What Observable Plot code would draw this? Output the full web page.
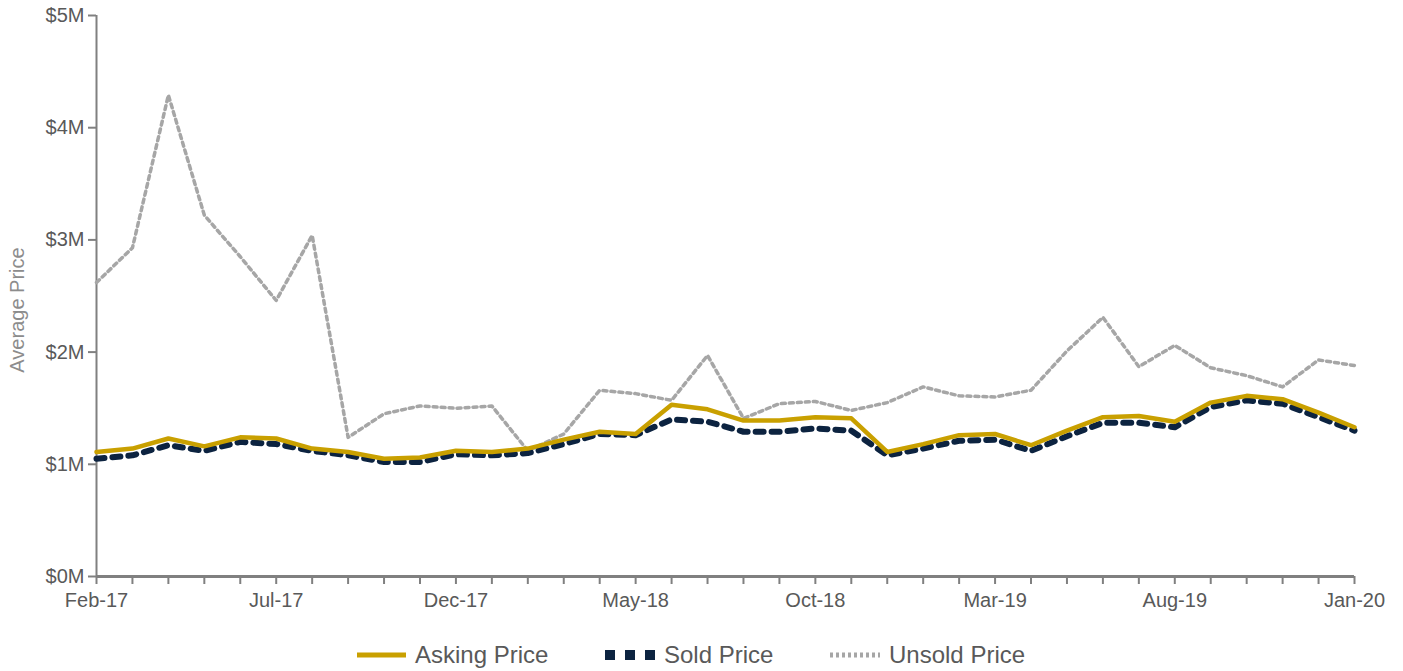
<!DOCTYPE html>
<html>
<head>
<meta charset="utf-8">
<script src="https://cdn.jsdelivr.net/npm/d3@7"></script>
<script src="https://cdn.jsdelivr.net/npm/@observablehq/plot@0.6"></script>
<style>
  html, body { margin: 0; padding: 0; background: #fff; }
  body { width: 1403px; height: 671px; overflow: hidden; font-family: "Liberation Sans", Arial, sans-serif; }
  #legend { position: absolute; top: 640px; left: 0; width: 1403px; height: 30px; }
  .item { position: absolute; top: 0; height: 30px; display: flex; align-items: center; font-size: 24px; color: #595959; }
  .item svg { margin-right: 9px; }
</style>
</head>
<body>
<div id="chart"></div>
<div id="legend">
  <div class="item" style="left:357px"><svg width="49" height="10"><line x1="0" y1="5" x2="49" y2="5" stroke="#C9A000" stroke-width="5"/></svg>Asking Price</div>
  <div class="item" style="left:605px"><svg width="50" height="12"><line x1="0" y1="6" x2="50" y2="6" stroke="#0C2340" stroke-width="10" stroke-dasharray="10,10"/></svg>Sold Price</div>
  <div class="item" style="left:830px"><svg width="50" height="8"><line x1="0" y1="4" x2="50" y2="4" stroke="#A6A6A6" stroke-width="5" stroke-dasharray="3,3"/></svg>Unsold Price</div>
</div>
<script>
const months = ["Feb-17","Mar-17","Apr-17","May-17","Jun-17","Jul-17","Aug-17","Sep-17","Oct-17","Nov-17","Dec-17",
  "Jan-18","Feb-18","Mar-18","Apr-18","May-18","Jun-18","Jul-18","Aug-18","Sep-18","Oct-18","Nov-18","Dec-18",
  "Jan-19","Feb-19","Mar-19","Apr-19","May-19","Jun-19","Jul-19","Aug-19","Sep-19","Oct-19","Nov-19","Dec-19","Jan-20"];

// values in $M
const askingPrice = [1.11,1.14,1.23,1.16,1.24,1.23,1.14,1.11,1.05,1.06,1.12,1.11,1.14,1.22,1.29,1.27,1.53,1.49,1.39,1.39,1.42,1.41,
  1.11,1.18,1.26,1.27,1.17,1.30,1.42,1.43,1.38,1.55,1.61,1.58,1.46,1.33];
const soldPrice = [1.05,1.08,1.17,1.12,1.20,1.18,1.12,1.08,1.02,1.02,1.09,1.08,1.10,1.18,1.27,1.26,1.40,1.38,1.29,1.29,1.32,1.30,
  1.08,1.14,1.21,1.22,1.12,1.25,1.37,1.37,1.33,1.51,1.57,1.54,1.42,1.30];
const unsoldPrice = [2.62,2.93,4.29,3.22,2.85,2.46,3.04,1.24,1.45,1.52,1.50,1.52,1.12,1.27,1.66,1.63,1.57,1.97,1.41,1.54,1.56,1.48,
  1.55,1.69,1.61,1.60,1.66,2.01,2.31,1.87,2.06,1.86,1.79,1.69,1.93,1.88];

const yTicks = [0,1,2,3,4,5];
const tickLabelMonths = months.filter((m, i) => i % 5 === 0);

const series = (name, vals) => months.map((m, i) => ({month: m, value: vals[i] * 1e6, series: name}));
const asking = series("Asking Price", askingPrice);
const sold = series("Sold Price", soldPrice);
const unsold = series("Unsold Price", unsoldPrice);

const axisColor = "#808080";
const textColor = "#595959";

const chart = Plot.plot({
  width: 1403,
  height: 620,
  marginLeft: 96,
  marginRight: 49,
  marginTop: 15,
  marginBottom: 44,
  style: {fontFamily: "'Liberation Sans', Arial, sans-serif", fontSize: "20px", color: textColor, background: "#fff"},
  x: {type: "point", domain: months, padding: 0},
  y: {domain: [0, 5e6]},
  marks: [
    Plot.axisX({ticks: months, tickSize: 8, tickPadding: 8, stroke: axisColor, strokeWidth: 2,
      tickFormat: d => tickLabelMonths.includes(d) ? d : "", fill: textColor, fontSize: 20, label: null}),
    Plot.axisY({ticks: yTicks.map(v => v * 1e6), tickSize: 8, tickPadding: 4, stroke: axisColor, strokeWidth: 2,
      tickFormat: d => "$" + (d / 1e6) + "M", fill: textColor, fontSize: 20,
      label: "Average Price", labelAnchor: "center", labelArrow: "none", labelOffset: 87}),
    Plot.ruleX([months[0]], {stroke: axisColor, strokeWidth: 2}),
    Plot.ruleY([0], {stroke: axisColor, strokeWidth: 3}),
    Plot.line(unsold, {x: "month", y: "value", stroke: "#A6A6A6", strokeWidth: 3.5, strokeDasharray: "4 4"}),
    Plot.line(sold, {x: "month", y: "value", stroke: "#0C2340", strokeWidth: 6, strokeDasharray: "8 8"}),
    Plot.line(asking, {x: "month", y: "value", stroke: "#C9A000", strokeWidth: 4.5})
  ]
});
document.getElementById("chart").appendChild(chart);
// y label styling and position
chart.querySelectorAll("g[aria-label='y-axis label'] text").forEach(t => {
  t.setAttribute("fill", "#8c8c8c");
  t.setAttribute("font-size", "20");
  const tr = t.getAttribute("transform") || "";
  t.setAttribute("transform", "translate(0,14) " + tr);
});
</script>
</body>
</html>
